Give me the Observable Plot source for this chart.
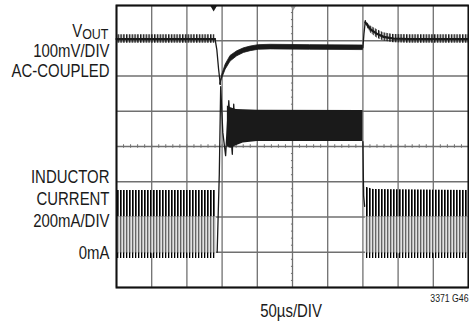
<!DOCTYPE html>
<html><head><meta charset="utf-8">
<script src="https://cdn.jsdelivr.net/npm/d3@7"></script>
<script src="https://cdn.jsdelivr.net/npm/@observablehq/plot@0.6"></script>
<style>html,body{margin:0;padding:0;background:#fff}svg{display:block}</style>
</head><body><div id="chart"></div>
<script>
// ---- graticule (divisions) ----
const gridX = [0, 1, 2, 3, 4, 5, 6, 7, 8, 9, 10];
const gridY = [0, 1, 2, 3, 4, 5, 6, 7, 8];

// ---- VOUT trace (time in div, level in div) ----
const voutPreT = [0, 2.80];
const voutPreV = [7.05, 7.05];
const voutPreRipple = [0.12, 0.12];
const voutDropT = [2.80, 2.85, 2.90, 2.95];
const voutDropV = [7.05, 6.75, 6.20, 5.76];
const voutRecT = [2.95, 3.00, 3.10, 3.24, 3.43, 3.62, 3.81, 4.04, 4.38, 5.50, 7.00];
const voutRecV = [5.78, 5.97, 6.25, 6.49, 6.63, 6.72, 6.77, 6.81, 6.82, 6.81, 6.80];
const voutRecRipple = [0.02, 0.05, 0.07, 0.08, 0.07, 0.065, 0.065, 0.065, 0.065, 0.065, 0.065];
const voutStepT = [7.00, 7.03, 7.07];
const voutStepV = [6.80, 7.20, 7.57];
const voutPostT = [7.07, 7.22, 7.41, 7.59, 7.87, 8.30, 10];
const voutPostV = [7.52, 7.32, 7.19, 7.11, 7.06, 7.05, 7.05];
const voutPostRipple = [0.05, 0.10, 0.12, 0.12, 0.12, 0.12, 0.12];

// ---- inductor current trace ----
const iZero = 0.96;          // 0mA level (div)
const iDark = 2.0;           // upper dark part of burst pulses
const iBurstPreT = [0, 2.84];
const iBurstPreTop = [2.75, 2.75];
const iBurstPostT = [7.07, 7.30, 10];
const iBurstPostTop = [2.85, 2.78, 2.75];
const iRingT = [2.86, 2.92, 2.96, 3.02, 3.10, 3.19, 3.25, 3.29, 3.33, 3.38];
const iRingV = [1.00, 3.20, 5.70, 4.40, 3.74, 5.30, 4.30, 3.78, 5.20, 4.10];
const iBandT = [3.15, 3.25, 3.40, 3.60, 4.00, 7.00];
const iBandTop = [5.15, 5.10, 5.05, 5.04, 5.03, 5.02];
const iBandBot = [4.00, 3.95, 4.02, 4.10, 4.14, 4.14];
const iFallT = [7.00, 7.02, 7.05];
const iFallV = [4.14, 2.60, 2.30];

// ---- markers and text ----
const triggerT = [2.76];
const centerMarkT = [5.02];
const voutName = ["V", "OUT"];
const voutLabels = ["100mV/DIV", "AC-COUPLED"];
const currentLabels = ["INDUCTOR", "CURRENT", "200mA/DIV"];
const zeroLabel = ["0mA"];
const timeLabel = ["50µs/DIV"];
const figLabel = ["3371 G46"];

const band = (T, V, H) => T.map((t, i) => ({t, lo: V[i] - H[i], hi: V[i] + H[i], v: V[i]}));
const pts = (T, V) => T.map((t, i) => ({t, v: V[i]}));
const flat = (T, top, bot) => T.map((t, i) => ({t, hi: top[i], lo: bot}));

const minorX = d3.range(0, 10.001, 0.2);
const minorY = d3.range(0, 8.001, 0.2);
const font = "'Liberation Sans',Arial,Helvetica,sans-serif";
const ink = "#1a1a1a";

const plot = Plot.plot({
  width: 469, height: 324,
  marginLeft: 116, marginRight: 1, marginTop: 5, marginBottom: 37,
  x: {domain: [0, 10], axis: null},
  y: {domain: [0, 8], axis: null},
  style: {fontFamily: font, color: ink, background: "#fff", overflow: "visible"},
  marks: [
    Plot.ruleX(gridX, {stroke: "#707070", strokeWidth: 1.3}),
    Plot.ruleY(gridY, {stroke: "#707070", strokeWidth: 1.3}),
    Plot.ruleX(minorX, {y1: 3.95, y2: 4.05, stroke: "#707070"}),
    Plot.ruleY(minorY, {x1: 4.97, x2: 5.03, stroke: "#707070"}),

    // inductor current: burst mode pulses
    Plot.areaY(flat(iBurstPreT, iBurstPreTop, iDark), {x: "t", y1: "lo", y2: "hi", fill: "url(#burstTop)"}),
    Plot.areaY(flat(iBurstPreT, iBurstPreT.map(() => iDark), iZero), {x: "t", y1: "lo", y2: "hi", fill: "url(#burstLow)"}),
    Plot.areaY(flat(iBurstPreT, iBurstPreT.map(() => iZero + 0.02), iZero - 0.14), {x: "t", y1: "lo", y2: "hi", fill: "url(#burstBase)"}),
    Plot.areaY(flat(iBurstPostT, iBurstPostTop, iDark), {x: "t", y1: "lo", y2: "hi", fill: "url(#burstTop)"}),
    Plot.areaY(flat(iBurstPostT, iBurstPostT.map(() => iDark), iZero), {x: "t", y1: "lo", y2: "hi", fill: "url(#burstLow)"}),
    Plot.areaY(flat(iBurstPostT, iBurstPostT.map(() => iZero + 0.02), iZero - 0.14), {x: "t", y1: "lo", y2: "hi", fill: "url(#burstBase)"}),
    // heavy load: continuous ripple band
    Plot.line(pts(iRingT, iRingV), {x: "t", y: "v", stroke: ink, strokeWidth: 1.3}),
    Plot.areaY(iBandT.map((t, i) => ({t, lo: iBandBot[i], hi: iBandTop[i]})), {x: "t", y1: "lo", y2: "hi", fill: ink}),
    Plot.line(pts(iFallT, iFallV), {x: "t", y: "v", stroke: ink, strokeWidth: 1.3}),

    // VOUT
    Plot.areaY(band(voutPreT, voutPreV, voutPreRipple), {x: "t", y1: "lo", y2: "hi", fill: "url(#ripple)"}),
    Plot.line(pts(voutPreT, voutPreV), {x: "t", y: "v", stroke: ink, strokeWidth: 2.2}),
    Plot.line(pts(voutDropT, voutDropV), {x: "t", y: "v", stroke: ink, strokeWidth: 1.3}),
    Plot.areaY(band(voutRecT, voutRecV, voutRecRipple), {x: "t", y1: "lo", y2: "hi", fill: ink, stroke: ink, strokeWidth: 0.8}),
    Plot.line(pts(voutStepT, voutStepV), {x: "t", y: "v", stroke: ink, strokeWidth: 1.3}),
    Plot.areaY(band(voutPostT, voutPostV, voutPostRipple), {x: "t", y1: "lo", y2: "hi", fill: "url(#ripple)"}),
    Plot.line(pts(voutPostT, voutPostV), {x: "t", y: "v", stroke: ink, strokeWidth: 2.2}),

    // scope markers on the top edge
    Plot.dot(triggerT, {x: d => d, y: 8, dy: 2, symbol: "triangle", rotate: 180, r: 2.6, fill: ink}),
    Plot.dot(centerMarkT, {x: d => d, y: 8, dy: 2, symbol: "triangle", rotate: 180, r: 2, fill: "#999"}),

    Plot.frame({stroke: "#111", strokeWidth: 2}),

    // labels
    Plot.text([voutName[0]], {frameAnchor: "left", dx: -44.3, y: 7.12, text: d => d, textAnchor: "start", lineAnchor: "bottom", fontSize: 18}),
    Plot.text([voutName[1]], {frameAnchor: "left", dx: -34.3, y: 7.055, text: d => d, textAnchor: "start", lineAnchor: "bottom", fontSize: 15}),
    Plot.text(voutLabels, {frameAnchor: "left", dx: -7, y: (d, i) => [6.533, 5.966][i], text: d => d, textAnchor: "end", lineAnchor: "bottom", fontSize: 18}),
    Plot.text(currentLabels, {frameAnchor: "left", dx: -7, y: (d, i) => [2.959, 2.346, 1.730][i], text: d => d, textAnchor: "end", lineAnchor: "bottom", fontSize: 18}),
    Plot.text(zeroLabel, {frameAnchor: "left", dx: -7, y: 0.814, text: d => d, textAnchor: "end", lineAnchor: "bottom", fontSize: 18}),
    Plot.text(timeLabel, {x: 4.96, y: -0.843, text: d => d, textAnchor: "middle", lineAnchor: "bottom", fontSize: 18}),
    Plot.text(figLabel, {x: 10, y: -0.417, text: d => d, textAnchor: "end", lineAnchor: "bottom", fontSize: 10.5})
  ]
});

// condensed lettering (no narrow face installed): squeeze glyphs horizontally about each anchor
plot.querySelectorAll("text").forEach(t => {
  const tr = t.getAttribute("transform") || "";
  const x = t.getAttribute("x"), y = t.getAttribute("y");
  if (x !== null || y !== null) {
    t.setAttribute("transform", `${tr} translate(${x || 0},${y || 0}) scale(0.83,1)`);
    t.removeAttribute("x"); t.removeAttribute("y");
  } else {
    t.setAttribute("transform", `${tr} scale(0.83,1)`);
  }
});

const defs = document.createElementNS("http://www.w3.org/2000/svg", "defs");
defs.innerHTML = `
  <pattern id="ripple" width="2.8" height="40" patternUnits="userSpaceOnUse">
    <rect x="0" y="0" width="1.5" height="40" fill="${ink}"/>
  </pattern>
  <pattern id="burstTop" width="3" height="40" patternUnits="userSpaceOnUse">
    <rect x="0" y="0" width="1" height="40" fill="#000"/>
    <rect x="1" y="0" width="1" height="40" fill="#555"/>
  </pattern>
  <pattern id="burstLow" width="3" height="40" patternUnits="userSpaceOnUse">
    <rect x="0" y="0" width="1" height="40" fill="#666"/>
    <rect x="1" y="0" width="1" height="40" fill="#b8b8b8"/>
    <rect x="2" y="0" width="1" height="40" fill="#e2e2e2"/>
  </pattern>
  <pattern id="burstBase" width="3" height="40" patternUnits="userSpaceOnUse">
    <rect x="0" y="0" width="1.3" height="40" fill="#000"/>
  </pattern>`;
plot.insertBefore(defs, plot.firstChild);
document.getElementById("chart").append(plot);
</script>
</body></html>
